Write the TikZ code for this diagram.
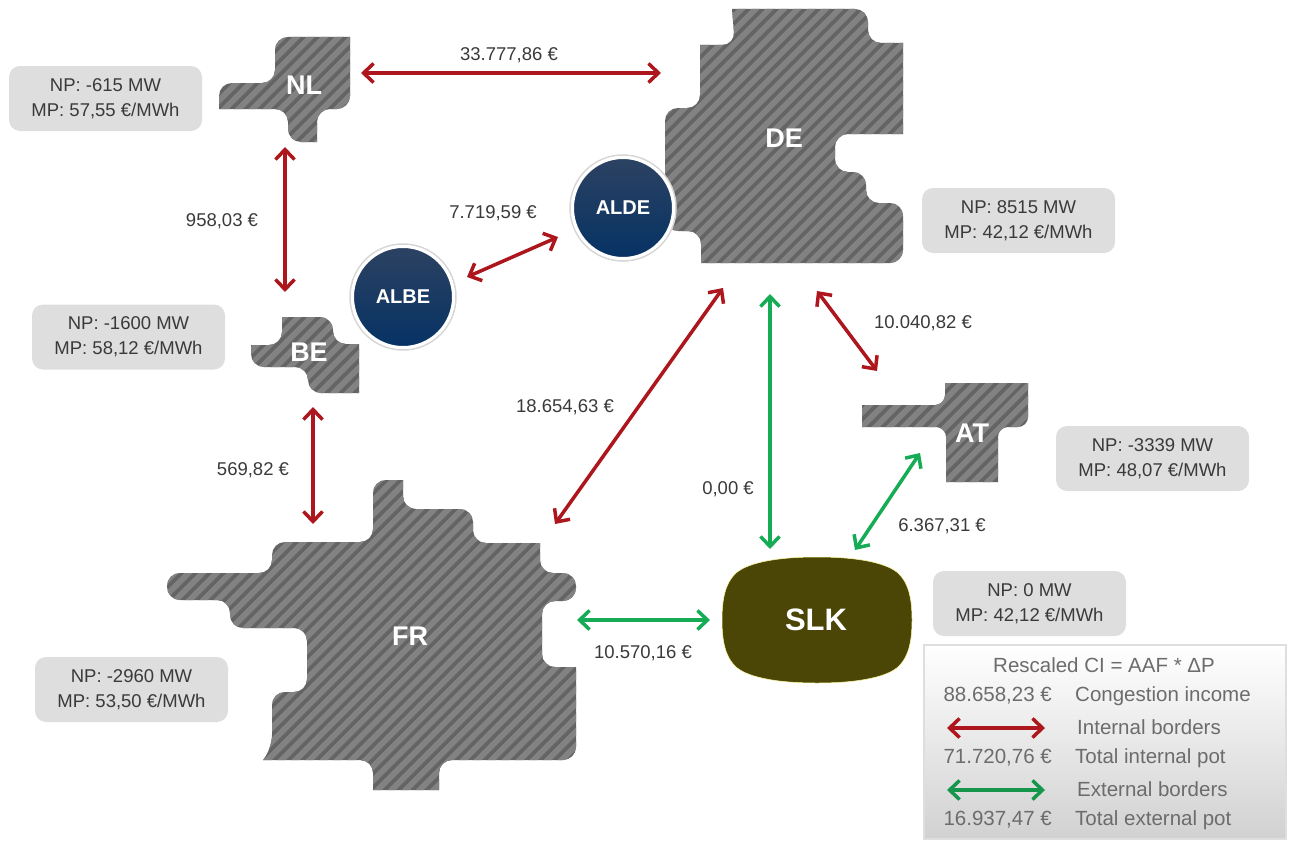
\documentclass[tikz,border=0pt]{standalone}
\usepackage{fontspec}
\setmainfont{Liberation Sans}
\usetikzlibrary{arrows.meta,patterns.meta}
\definecolor{redline}{RGB}{172,22,28}
\definecolor{greenline}{RGB}{22,172,86}
\definecolor{legendgreen}{RGB}{22,150,76}
\definecolor{hatchdark}{RGB}{100,100,100}
\definecolor{hatchlight}{RGB}{130,130,130}
\definecolor{slkfill}{RGB}{76,70,6}
\definecolor{boxgray}{RGB}{222,222,222}
\definecolor{navytop}{RGB}{44,66,98}
\definecolor{navybot}{RGB}{6,50,100}
\definecolor{labeltext}{RGB}{58,58,58}
\definecolor{legendtext}{RGB}{108,108,108}
\tikzset{
        area/.style={rounded corners=13pt, preaction={fill, hatchdark}, pattern={Lines[angle=45, distance=10.5pt, line width=6.5pt]}, pattern color=hatchlight},
        areaname/.style={text=white, font=\fontsize{27}{27}\selectfont\bfseries, inner sep=0pt},
        alnode/.style={circle, draw=white, line width=3pt, minimum size=101pt, inner sep=0pt, shade, top color=navytop, bottom color=navybot, text=white, font=\fontsize{20}{20}\selectfont\bfseries},
        alring/.style={circle, draw=black!16, fill=white, line width=1.5pt, minimum size=106pt},
        infobox/.style={fill=boxgray, rounded corners=11pt, minimum width=193pt, minimum height=65pt, inner sep=0pt, align=center, text=labeltext, font=\fontsize{18.5}{25}\selectfont},
        price/.style={text=labeltext, inner sep=0pt, font=\fontsize{18.5}{22}\selectfont},
        internal/.style={{Straight Barb[length=10pt,width=19pt]}-{Straight Barb[length=10pt,width=19pt]}, draw=redline, line width=3.5pt},
        external/.style={internal, draw=greenline},
        legendrow/.style={text=legendtext, inner sep=0pt, font=\fontsize{20.5}{24}\selectfont}
          }
\begin{document}
\begin{tikzpicture}[x=1pt,y=-1pt]
        \useasboundingbox (0,0) rectangle (1289,843);
        \path[area] (320,37) -- (275,37) -- (275,83) -- (219,83) [sharp corners] -- (219,109) [rounded corners=13pt] -- (288,109) -- (288,142) [sharp corners] -- (317,142) [rounded corners=13pt] -- (317,109) -- (350,109) [sharp corners] -- (350,37) -- cycle;
        \path[area] (800,9) -- (868,9) -- (868,43) [sharp corners] -- (903,43) -- (903,134) [rounded corners=13pt] -- (835,134) -- (835,172) -- (866,172) -- (866,203) -- (903,203) -- (903,263) [sharp corners] -- (701,263) [rounded corners=13pt] -- (701,231) -- (665,231) -- (665,108) -- (700,108) [sharp corners] -- (700,45) [rounded corners=13pt] -- (735,45) [sharp corners] -- (732,9) -- cycle;
        \path[area] (300,317) -- (333,317) -- (333,344) [sharp corners] -- (359,344) -- (359,393) [rounded corners=13pt] -- (308,393) -- (308,367) -- (251,367) [sharp corners] -- (251,345) [rounded corners=13pt] -- (282,345) [sharp corners] -- (282,317) -- cycle;
        \path[area] (1000,383) [sharp corners] -- (1028,383) [rounded corners=10pt] -- (1028,427) -- (998,427) [sharp corners] -- (998,482) -- (946,482) [rounded corners=10pt] -- (946,427) [sharp corners] -- (862,427) -- (862,405) [rounded corners=10pt] -- (945,405) [sharp corners] -- (945,383) -- cycle;
        \path[area] (263,760) -- (272,748) [rounded corners=13pt] -- (272,692) -- (307,692) -- (307,628) -- (230,628) -- (230,600) -- (167,600) -- (167,573) -- (272,573) -- (272,542) -- (373,542) -- (373,480) [sharp corners] -- (403,480) [rounded corners=13pt] -- (403,509) -- (473,509) -- (473,543) [sharp corners] -- (540,543) [rounded corners=13pt] -- (540,573) -- (576,573) -- (576,601) -- (542,601) -- (542,667) [sharp corners] -- (576,667) [rounded corners=13pt] -- (576,760) -- (439,760) [sharp corners] -- (439,790) -- (373,790) [rounded corners=13pt] -- (373,760) [sharp corners] -- cycle;
        \filldraw[fill=slkfill, draw=yellow!40!white, line width=0.5pt] (817,557) .. controls (772,557) and (745,564) .. (735,574) .. controls (725,584) and (722,600) .. (722,620) .. controls (722,640) and (725,656) .. (735,666) .. controls (745,676) and (772,683) .. (817,683) .. controls (862,683) and (889,676) .. (899,666) .. controls (909,656) and (912,640) .. (912,620) .. controls (912,600) and (909,584) .. (899,574) .. controls (889,564) and (862,557) .. (817,557) -- cycle;

        \node[alring] (ALBEring) at (403,297) {};
        \node[alnode] (ALBE) at (403,297) {ALBE};
        \node[alring] (ALDEring) at (623,208) {};
        \node[alnode] (ALDE) at (623,208) {ALDE};

        \node[areaname] (NL) at (304,85) {NL};
        \node[areaname] (DE) at (784,138) {DE};
        \node[areaname] (BE) at (309,352) {BE};
        \node[areaname] (AT) at (972,433) {AT};
        \node[areaname] (FR) at (410,636) {FR};
        \node[areaname, font=\fontsize{31}{31}\selectfont\bfseries] (SLK) at (816,620) {SLK};

        \node[infobox] (NLinfo) at (105.5,98.5) {NP: -615 MW\\MP: 57,55 €/MWh};
        \node[infobox] (DEinfo) at (1018.5,220.5) {NP: 8515 MW\\MP: 42,12 €/MWh};
        \node[infobox] (BEinfo) at (128.5,337) {NP: -1600 MW\\MP: 58,12 €/MWh};
        \node[infobox] (ATinfo) at (1152.5,458.5) {NP: -3339 MW\\MP: 48,07 €/MWh};
        \node[infobox] (SLKinfo) at (1029.5,603.5) {NP: 0 MW\\MP: 42,12 €/MWh};
        \node[infobox] (FRinfo) at (131.5,689.5) {NP: -2960 MW\\MP: 53,50 €/MWh};

        \coordinate (NLe) at (361,73);
        \coordinate (DEw) at (661,73);
        \coordinate (NLs) at (285,147);
        \coordinate (BEn) at (285,292);
        \coordinate (BEs) at (313,407);
        \coordinate (FRn) at (313,524);
        \coordinate (ALBEe) at (467,277);
        \coordinate (ALDEw) at (558,237);
        \coordinate (DEsw) at (723,288);
        \coordinate (FRne) at (555,524);
        \coordinate (DEs) at (770,294);
        \coordinate (SLKn) at (770,549);
        \coordinate (DEse) at (817,291);
        \coordinate (ATn) at (877,371);
        \coordinate (ATsw) at (920,453);
        \coordinate (SLKne) at (855,550);
        \coordinate (FRe) at (577,620);
        \coordinate (SLKw) at (710,620);
        \draw[internal] (NLe) -- (DEw);
        \draw[internal] (NLs) -- (BEn);
        \draw[internal] (BEs) -- (FRn);
        \draw[internal] (ALBEe) -- (ALDEw);
        \draw[internal] (DEsw) -- (FRne);
        \draw[internal] (DEse) -- (ATn);
        \draw[external] (DEs) -- (SLKn);
        \draw[external] (ATsw) -- (SLKne);
        \draw[external] (FRe) -- (SLKw);

        \node[price] (NLDE) at (509,55) {33.777,86 €};
        \node[price] (NLBE) at (222,221) {958,03 €};
        \node[price] (ALBEALDE) at (493,213) {7.719,59 €};
        \node[price] (DEAT) at (923,323) {10.040,82 €};
        \node[price] (DEFR) at (565,407) {18.654,63 €};
        \node[price] (BEFR) at (253,470) {569,82 €};
        \node[price] (DESLK) at (728,489) {0,00 €};
        \node[price] (ATSLK) at (942,526) {6.367,31 €};
        \node[price] (FRSLK) at (643,653) {10.570,16 €};

        \node[draw=black!13, line width=2pt, shade, top color=white, bottom color=black!18, minimum width=362pt, minimum height=194pt, inner sep=0pt] (legend) at (1105,742) {};
        \node[legendrow] (legendtitle) at (1104,665) {Rescaled CI = AAF * ΔP};
        \node[legendrow, anchor=east] (legendCI) at (1052,696) {88.658,23 €};
        \node[legendrow, anchor=west] (legendCIname) at (1075,696) {Congestion income};
        \coordinate (legendintl) at (947,728);
        \coordinate (legendintr) at (1045,728);
        \draw[internal] (legendintl) -- (legendintr);
        \node[legendrow, anchor=west] (legendintname) at (1077,727) {Internal borders};
        \node[legendrow, anchor=east] (legendintpot) at (1052,758) {71.720,76 €};
        \node[legendrow, anchor=west] (legendintpotname) at (1075,758) {Total internal pot};
        \coordinate (legendextl) at (947,790);
        \coordinate (legendextr) at (1045,790);
        \draw[internal, draw=legendgreen] (legendextl) -- (legendextr);
        \node[legendrow, anchor=west] (legendextname) at (1077,789) {External borders};
        \node[legendrow, anchor=east] (legendextpot) at (1052,820) {16.937,47 €};
        \node[legendrow, anchor=west] (legendextpotname) at (1075,820) {Total external pot};
\end{tikzpicture}
\end{document}
